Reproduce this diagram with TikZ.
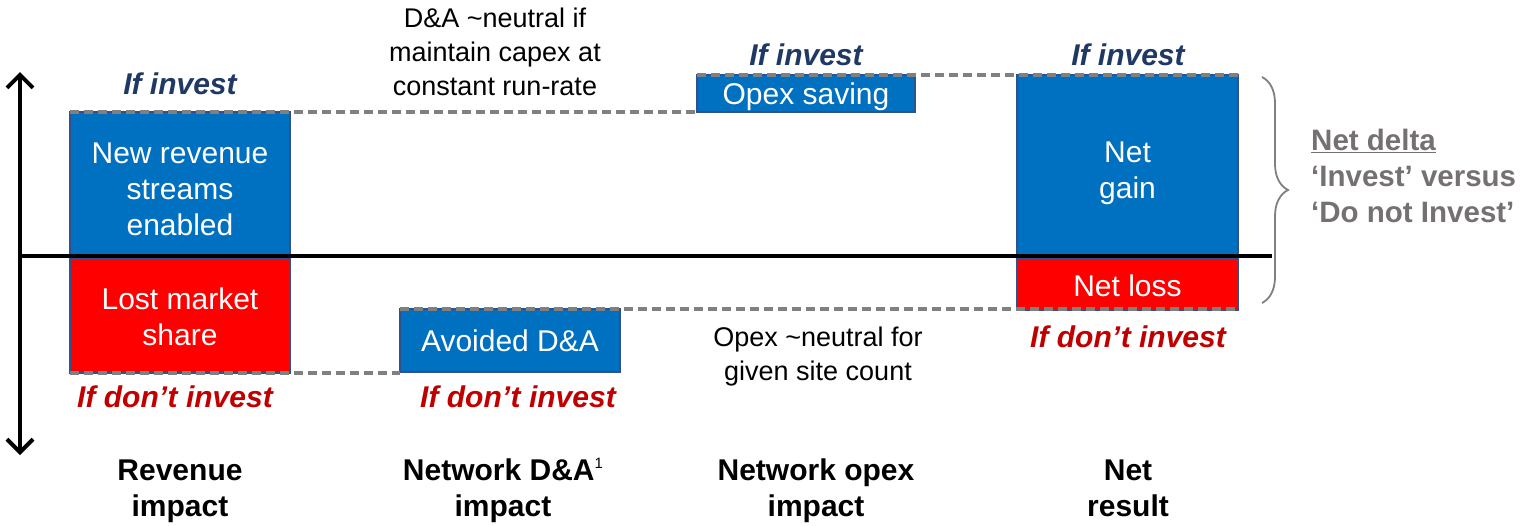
\documentclass[tikz,border=0pt]{standalone}
\usepackage{fontspec}
\setmainfont{Liberation Sans}
\usetikzlibrary{arrows.meta,decorations.pathreplacing}
\definecolor{boxblue}{HTML}{0070C0}
\definecolor{boxred}{HTML}{FF0000}
\definecolor{edgeblue}{HTML}{2F528F}
\definecolor{navy}{HTML}{1F3864}
\definecolor{darkred}{HTML}{C00000}
\definecolor{dashgray}{HTML}{808080}
\definecolor{notegray}{HTML}{767171}
\begin{document}
\begin{tikzpicture}[x=1pt,y=-1pt,
  font=\fontsize{30}{36}\selectfont,
  bar/.style={draw=edgeblue, line width=2pt, inner sep=0pt, outer sep=0pt, anchor=north west},
  bluebar/.style={bar, fill=boxblue},
  redbar/.style={bar, fill=boxred},
  bartext/.style={text=white, align=center, inner sep=0pt},
  guide/.style={draw=dashgray, line width=3.5pt, dash pattern=on 9pt off 5pt},
  axis/.style={draw=black, line width=4pt},
  axisarrows/.style={axis, >={Straight Barb[length=13pt,width=26pt,line width=4pt]}, <->},
  invest/.style={text=navy, font=\fontsize{30}{36}\selectfont\bfseries\itshape},
  noinvest/.style={text=darkred, font=\fontsize{30}{36}\selectfont\bfseries\itshape},
  note/.style={align=center, font=\fontsize{27}{34}\selectfont},
  cat/.style={align=center, font=\fontsize{30}{36}\selectfont\bfseries},
  delta/.style={align=left, anchor=west, inner sep=0pt, text=notegray, font=\fontsize{29.5}{36}\selectfont\bfseries},
  bracestyle/.style={draw=dashgray, line width=1.8pt, decorate, decoration={brace, amplitude=26pt}},
]
\useasboundingbox (0,0) rectangle (1521,525);

% bars
\node[bluebar, minimum width=220pt, minimum height=143pt] (newrev) at (70,112) {};
\node[redbar, minimum width=220pt, minimum height=115pt] (lost) at (70,258) {};
\node[bluebar, minimum width=220pt, minimum height=63pt] (avoided) at (400,309) {};
\node[bluebar, minimum width=218pt, minimum height=37pt] (opex) at (697,75) {};
\node[bluebar, minimum width=221pt, minimum height=180pt] (netgain) at (1017,75) {};
\node[redbar, minimum width=221pt, minimum height=52pt] (netloss) at (1017,258) {};

\node[bartext] (newrevtext) at ([yshift=-6pt]newrev.center) {New revenue\\streams\\enabled};
\node[bartext] (losttext) at ([yshift=-1pt]lost.center) {Lost market\\share};
\node[bartext] (avoidedtext) at (avoided.center) {Avoided D\&A};
\node[bartext] (opextext) at ([yshift=-3pt]opex.center) {Opex saving};
\node[bartext] (netgaintext) at ([yshift=-8pt]netgain.center) {Net\\gain};
\node[bartext] (netlosstext) at ([yshift=-2pt]netloss.center) {Net loss};

% dashed guides
\draw[guide] (newrev.north west) -- (newrev.north west -| opex.west);
\draw[guide] (opex.north west) -- (netgain.north east);
\draw[guide] (lost.south west) -- (lost.south west -| avoided.west);
\draw[guide] (avoided.north west) -- (avoided.north west -| netloss.east);

% axes
\coordinate (ytop) at (20,72);
\coordinate (ybot) at (20,455);
\coordinate (origin) at (20,256);
\coordinate (xend) at (1272,256);
\draw[axisarrows] (ytop) -- (ybot);
\draw[axis] (origin) -- (xend);

% brace
\coordinate (bracetop) at (1262,77);
\coordinate (bracebot) at (1262,303);
\draw[bracestyle] (bracetop) -- (bracebot);

% labels
\node[invest] (inv1) at (180,84) {If invest};
\node[invest] (inv2) at (806,55) {If invest};
\node[invest] (inv3) at (1128,55) {If invest};
\node[noinvest] (no1) at (175,397) {If don’t invest};
\node[noinvest] (no2) at (518,397) {If don’t invest};
\node[noinvest] (no3) at (1128,337) {If don’t invest};

\node[note] (danote) at (495,52) {D\&A \textasciitilde neutral if\\maintain capex at\\constant run-rate};
\node[note] (opexnote) at (818,357) {Opex \textasciitilde neutral for\\given site count};

\node[delta] (netdelta) at (1311,176) {\underline{Net delta}\\‘Invest’ versus\\‘Do not Invest’};

\node[cat] (cat1) at (180,491) {Revenue\\impact};
\node[cat] (cat2) at (503,490) {Network D\&A\raisebox{12pt}{\fontsize{15}{15}\selectfont\mdseries 1}\\impact};
\node[cat] (cat3) at (816,491) {Network opex\\impact};
\node[cat] (cat4) at (1128,488) {Net\\result};
\end{tikzpicture}
\end{document}
